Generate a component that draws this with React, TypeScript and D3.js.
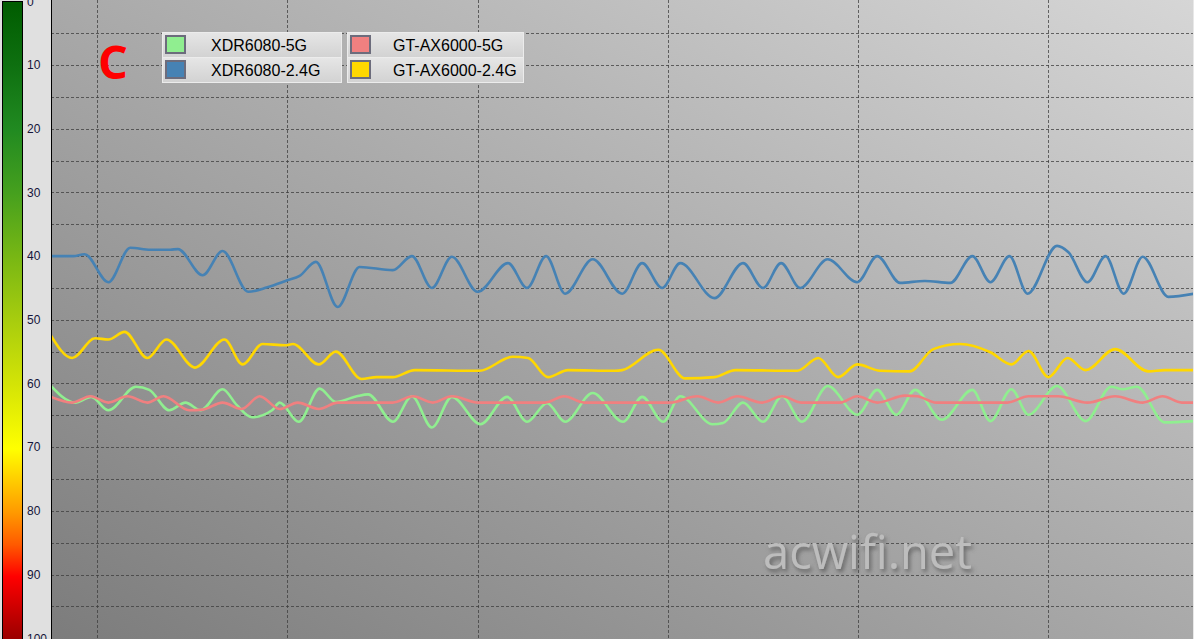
import React from "react";
import * as d3 from "d3";

// ---- data (time index 0..120, signal value 0..100, lower is better) ----
const Y_TICKS = [0, 10, 20, 30, 40, 50, 60, 70, 80, 90, 100];
const X_GRID = [5, 25, 45, 65, 85, 105];

const SERIES_NAMES = ["XDR6080-5G", "XDR6080-2.4G", "GT-AX6000-5G", "GT-AX6000-2.4G"];
const SERIES_COLORS = ["#90ee90", "#4682b4", "#f08080", "#ffd700"];

const T_XDR_5G = [0, 2.7, 4.4, 6.2, 9.1, 10.5, 12.6, 14.3, 15.9, 18.2, 19.7, 21.3, 23.4, 24.2, 26.2, 28.4, 30.1, 32.3, 33.5, 36.1, 38.1, 40.2, 42.3, 45.3, 48.1, 50.2, 52.3, 54.2, 57.1, 60.3, 62.3, 64.5, 66.3, 69.7, 70.8, 72.9, 75.0, 77.0, 79.1, 81.8, 84.9, 87.0, 89.0, 91.0, 93.8, 97.0, 98.9, 101.1, 102.9, 105.9, 108.9, 111.6, 112.8, 114.3, 117.2, 120.3];
const V_XDR_5G = [60.1, 63.0, 62.1, 64.2, 60.5, 61.0, 64.2, 63.0, 64.2, 60.9, 63.4, 65.3, 64.2, 63.0, 66.0, 60.8, 62.9, 62.0, 61.7, 66.0, 62.0, 66.9, 62.1, 66.4, 62.1, 66.0, 63.1, 66.0, 61.5, 66.0, 62.1, 66.0, 62.0, 66.4, 66.2, 63.0, 66.0, 62.0, 66.0, 60.4, 64.9, 61.0, 64.9, 61.0, 65.7, 61.0, 65.9, 60.9, 64.9, 60.4, 65.9, 60.5, 60.9, 60.5, 66.1, 65.9];

const T_XDR_24G = [0, 2.5, 3.7, 6.2, 8.5, 10.6, 12.7, 13.5, 16.1, 18.2, 20.9, 22.9, 25.0, 26.3, 28.0, 30.3, 32.6, 36.1, 38.1, 40.2, 42.3, 45.0, 48.2, 50.2, 52.2, 54.2, 57.1, 60.2, 62.3, 64.4, 66.3, 69.9, 72.9, 75.0, 76.9, 78.9, 81.8, 84.9, 87.0, 89.4, 92.0, 94.7, 97.0, 98.9, 100.9, 102.8, 105.9, 107.1, 109.1, 111.0, 112.9, 114.9, 117.6, 120.3];
const V_XDR_24G = [40.0, 40.0, 39.7, 44.1, 38.7, 39.0, 39.0, 38.9, 43.0, 39.2, 45.6, 44.9, 43.8, 43.1, 40.9, 48.0, 41.7, 42.2, 40.0, 45.0, 40.1, 45.6, 41.1, 45.0, 40.0, 45.9, 40.5, 45.9, 41.1, 45.0, 41.1, 46.6, 41.1, 45.0, 41.1, 45.0, 40.5, 44.1, 40.0, 44.2, 43.9, 44.2, 40.0, 44.1, 40.0, 45.9, 38.4, 39.4, 44.1, 40.0, 45.9, 40.1, 46.4, 45.9];

const T_GT_5G = [0, 2.4, 4.3, 6.2, 8.2, 10.3, 12.0, 14.7, 16.1, 18.2, 20.2, 22.1, 24.2, 26.1, 28.3, 30.3, 36.1, 38.2, 40.3, 42.3, 45.1, 52.1, 54.1, 56.2, 65.2, 68.1, 70.3, 72.3, 74.9, 77.0, 79.0, 83.1, 84.9, 87.0, 89.9, 91.2, 93.2, 100.7, 102.9, 106.0, 109.1, 112.0, 114.9, 117.0, 119.0, 120.3];
const V_GT_5G = [62.0, 63.0, 62.0, 63.0, 62.0, 63.0, 62.0, 64.2, 64.1, 63.0, 64.0, 62.0, 64.0, 63.0, 64.0, 63.0, 63.0, 62.0, 63.0, 62.0, 63.0, 63.0, 62.0, 63.0, 63.0, 62.0, 63.0, 62.0, 63.0, 62.0, 63.0, 63.0, 62.0, 63.0, 61.9, 62.0, 63.0, 63.0, 62.0, 62.0, 63.0, 62.0, 63.0, 62.0, 63.0, 63.0];

const T_GT_24G = [0, 2.4, 4.8, 6.2, 7.9, 10.3, 12.3, 15.3, 18.4, 20.3, 22.4, 24.8, 25.6, 28.3, 30.1, 32.8, 34.4, 36.1, 38.4, 45.2, 48.7, 50.3, 52.4, 54.5, 59.4, 60.2, 64.0, 66.8, 69.9, 72.1, 78.6, 80.8, 82.9, 84.9, 87.3, 90.4, 92.9, 95.7, 98.9, 101.1, 102.9, 105.0, 107.0, 108.9, 112.0, 115.5, 117.2, 120.3];
const V_GT_24G = [52.1, 56.0, 52.9, 53.1, 51.9, 56.0, 53.1, 57.5, 53.1, 57.0, 53.8, 54.0, 53.8, 57.0, 55.0, 59.3, 59.0, 59.0, 57.9, 58.0, 55.8, 56.0, 59.0, 57.9, 58.0, 57.9, 54.7, 59.2, 59.0, 57.9, 58.0, 56.0, 59.0, 57.0, 58.0, 58.1, 54.6, 53.8, 55.1, 57.0, 54.9, 59.0, 56.0, 57.9, 54.6, 58.1, 57.9, 57.9];

const SERIES_T = [T_XDR_5G, T_XDR_24G, T_GT_5G, T_GT_24G];
const SERIES_V = [V_XDR_5G, V_XDR_24G, V_GT_5G, V_GT_24G];

const BAR_STOPS = [
  [0, "#005c00"], [10, "#0e7010"], [20, "#218a21"], [30, "#46a01e"], [40, "#78b714"],
  [50, "#a8cd0e"], [60, "#d4e406"], [70, "#ffff00"], [75, "#ffcc00"], [80, "#ff9900"],
  [85, "#ff5a00"], [90, "#ff0000"], [100, "#980000"],
];

const W = 1194;
const H = 639;

export default function App() {
  const plotL = 51;
  const plotR = 1193;
  const x = d3.scaleLinear().domain([0, 120]).range([49.4, 1191.2]);
  const y = d3.scaleLinear().domain([0, 100]).range([1.3, 638.3]);
  const line = d3
    .line<[number, number]>()
    .x((d) => x(d[0]))
    .y((d) => y(d[1]))
    .curve(d3.curveMonotoneX);

  const legendCols = [
    { x0: 162, x1: 341, sw: 165, tx: 211, items: [0, 1] },
    { x0: 347, x1: 523, sw: 350, tx: 393, items: [2, 3] },
  ];
  const rowTop = [32, 57];

  return (
    <svg
      width={W}
      height={H}
      style={{ position: "absolute", left: 0, top: 0, display: "block" }}
      fontFamily="'Liberation Sans', Arial, sans-serif"
    >
      <defs>
        <linearGradient id="bg" x1="0" y1="1" x2="1" y2="0">
          <stop offset="0" stopColor="#7c7c7c" />
          <stop offset="1" stopColor="#d6d6d6" />
        </linearGradient>
        <linearGradient id="bar" x1="0" y1="0" x2="0" y2="1">
          {BAR_STOPS.map(([o, c]) => (
            <stop key={String(o)} offset={`${o}%`} stopColor={c as string} />
          ))}
        </linearGradient>
        <linearGradient id="cell" x1="0" y1="0" x2="0" y2="1">
          <stop offset="0" stopColor="#e6e6e6" />
          <stop offset="1" stopColor="#d2d2d2" />
        </linearGradient>
        <clipPath id="plotclip">
          <rect x={plotL} y={0} width={plotR - plotL} height={H} />
        </clipPath>
        <filter id="wmshadow" x="-10%" y="-30%" width="130%" height="160%">
          <feDropShadow dx="2" dy="3" stdDeviation="2" floodColor="#555" floodOpacity="0.8" />
        </filter>
      </defs>

      {/* left panel */}
      <rect x={0} y={0} width={plotL} height={H} fill="#e0e0e0" />
      <rect x={2.5} y={1.5} width={20} height={H} fill="url(#bar)" stroke="#000" strokeWidth={1} />
      {Y_TICKS.map((t) => (
        <text
          key={t}
          x={27}
          y={y(t)}
          dy="0.35em"
          fontSize={12}
          fill="#14143a"
        >
          {t}
        </text>
      ))}

      {/* plot background */}
      <rect x={plotL} y={0} width={plotR - plotL} height={H} fill="url(#bg)" />

      <g clipPath="url(#plotclip)">
        {/* horizontal grid every 5 */}
        {d3.range(5, 100, 5).map((v) => (
          <line
            key={"h" + v}
            x1={plotL}
            x2={plotR}
            y1={Math.round(y(v)) + 0.5}
            y2={Math.round(y(v)) + 0.5}
            stroke="#3c3c3c"
            strokeOpacity={0.75}
            strokeDasharray="3,2"
          />
        ))}
        {X_GRID.map((t) => (
          <line
            key={"v" + t}
            x1={Math.round(x(t)) + 0.5}
            x2={Math.round(x(t)) + 0.5}
            y1={0}
            y2={H}
            stroke="#3c3c3c"
            strokeOpacity={0.75}
            strokeDasharray="3,2"
          />
        ))}

        {/* watermark */}
        <text
          x={763}
          y={569}
          fontFamily="'Open Sans', sans-serif"
          fontSize={48}
          textLength={209}
          lengthAdjust="spacingAndGlyphs"
          fill="#bdbdbd"
          filter="url(#wmshadow)"
        >
          acwifi.net
        </text>

        {/* series lines */}
        {SERIES_T.map((ts, i) => (
          <path
            key={SERIES_NAMES[i]}
            d={line(ts.map((t, j) => [t, SERIES_V[i][j]] as [number, number])) || ""}
            fill="none"
            stroke={SERIES_COLORS[i]}
            strokeWidth={2.6}
            strokeLinejoin="round"
          />
        ))}
      </g>

      <line x1={plotL + 0.5} x2={plotL + 0.5} y1={0} y2={H} stroke="#000" strokeWidth={1} />
      <line x1={plotR + 0.5} x2={plotR + 0.5} y1={0} y2={H} stroke="#e8e8e8" strokeWidth={1} />

      {/* "C" label */}
      <text
        x={98}
        y={79}
        fontFamily="'Open Sans', sans-serif"
        fontWeight={700}
        fontSize={47}
        fill="#ff0000"
      >
        C
      </text>

      {/* legend */}
      {legendCols.map((col, ci) => (
        <g key={ci}>
          {col.items.map((si, ri) => (
            <g key={si}>
              <rect
                x={col.x0 + 0.5}
                y={rowTop[ri] + 0.5}
                width={col.x1 - col.x0}
                height={25}
                fill="url(#cell)"
                stroke="#ececec"
                strokeWidth={1}
              />
              <rect
                x={col.sw + 1}
                y={rowTop[ri] + 4}
                width={19}
                height={17}
                fill={SERIES_COLORS[si]}
                stroke="#6c6c7c"
                strokeWidth={2}
              />
              <text x={col.tx} y={rowTop[ri] + 19} fontSize={16} fill="#000">
                {SERIES_NAMES[si]}
              </text>
            </g>
          ))}
        </g>
      ))}
    </svg>
  );
}
